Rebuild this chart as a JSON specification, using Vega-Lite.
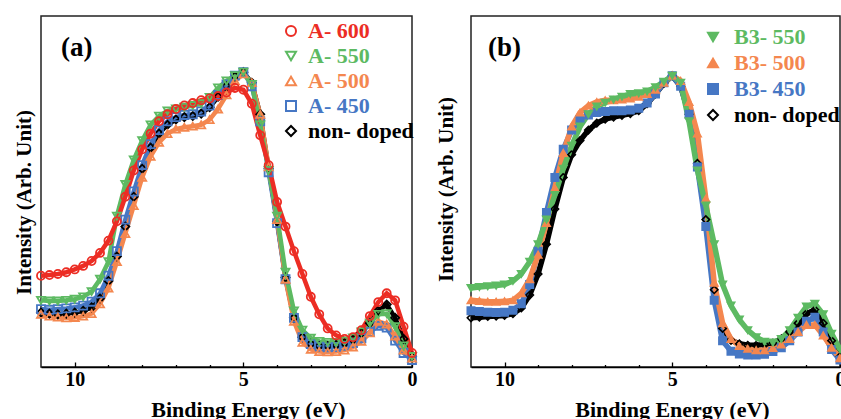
{
"$schema": "https://vega.github.io/schema/vega-lite/v6.json",
"padding": {"left": 12, "top": 15, "right": 2, "bottom": 0},
"bounds": "flush",
"spacing": 59,
"config": {
  "view": {"stroke": "#222222", "strokeWidth": 1.5},
  "font": "Liberation Serif",
  "axis": {"grid": false}
},
"datasets": {
"a": [
{"s":"non- doped","e":11,"i":0.155},{"s":"non- doped","e":10.75,"i":0.152},{"s":"non- doped","e":10.5,"i":0.15},{"s":"non- doped","e":10.25,"i":0.152},{"s":"non- doped","e":10,"i":0.155},{"s":"non- doped","e":9.75,"i":0.16},{"s":"non- doped","e":9.5,"i":0.17},{"s":"non- doped","e":9.25,"i":0.195},{"s":"non- doped","e":9,"i":0.245},{"s":"non- doped","e":8.75,"i":0.315},{"s":"non- doped","e":8.5,"i":0.4},{"s":"non- doped","e":8.25,"i":0.485},{"s":"non- doped","e":8,"i":0.565},{"s":"non- doped","e":7.75,"i":0.625},{"s":"non- doped","e":7.5,"i":0.665},{"s":"non- doped","e":7.25,"i":0.69},{"s":"non- doped","e":7,"i":0.705},{"s":"non- doped","e":6.75,"i":0.712},{"s":"non- doped","e":6.5,"i":0.715},{"s":"non- doped","e":6.25,"i":0.722},{"s":"non- doped","e":6,"i":0.74},{"s":"non- doped","e":5.75,"i":0.77},{"s":"non- doped","e":5.5,"i":0.8},{"s":"non- doped","e":5.25,"i":0.828},{"s":"non- doped","e":5,"i":0.84},{"s":"non- doped","e":4.75,"i":0.81},{"s":"non- doped","e":4.5,"i":0.72},{"s":"non- doped","e":4.25,"i":0.565},{"s":"non- doped","e":4,"i":0.415},{"s":"non- doped","e":3.75,"i":0.255},{"s":"non- doped","e":3.5,"i":0.14},{"s":"non- doped","e":3.25,"i":0.085},{"s":"non- doped","e":3,"i":0.066},{"s":"non- doped","e":2.75,"i":0.06},{"s":"non- doped","e":2.5,"i":0.06},{"s":"non- doped","e":2.25,"i":0.063},{"s":"non- doped","e":2,"i":0.068},{"s":"non- doped","e":1.75,"i":0.078},{"s":"non- doped","e":1.5,"i":0.097},{"s":"non- doped","e":1.25,"i":0.125},{"s":"non- doped","e":1,"i":0.16},{"s":"non- doped","e":0.75,"i":0.178},{"s":"non- doped","e":0.5,"i":0.14},{"s":"non- doped","e":0.25,"i":0.08},{"s":"non- doped","e":0,"i":0.03},
{"s":"A- 450","e":11,"i":0.165},{"s":"A- 450","e":10.75,"i":0.163},{"s":"A- 450","e":10.5,"i":0.165},{"s":"A- 450","e":10.25,"i":0.167},{"s":"A- 450","e":10,"i":0.17},{"s":"A- 450","e":9.75,"i":0.175},{"s":"A- 450","e":9.5,"i":0.186},{"s":"A- 450","e":9.25,"i":0.21},{"s":"A- 450","e":9,"i":0.26},{"s":"A- 450","e":8.75,"i":0.33},{"s":"A- 450","e":8.5,"i":0.42},{"s":"A- 450","e":8.25,"i":0.5},{"s":"A- 450","e":8,"i":0.575},{"s":"A- 450","e":7.75,"i":0.635},{"s":"A- 450","e":7.5,"i":0.675},{"s":"A- 450","e":7.25,"i":0.7},{"s":"A- 450","e":7,"i":0.712},{"s":"A- 450","e":6.75,"i":0.718},{"s":"A- 450","e":6.5,"i":0.72},{"s":"A- 450","e":6.25,"i":0.728},{"s":"A- 450","e":6,"i":0.745},{"s":"A- 450","e":5.75,"i":0.775},{"s":"A- 450","e":5.5,"i":0.805},{"s":"A- 450","e":5.25,"i":0.83},{"s":"A- 450","e":5,"i":0.84},{"s":"A- 450","e":4.75,"i":0.8},{"s":"A- 450","e":4.5,"i":0.7},{"s":"A- 450","e":4.25,"i":0.555},{"s":"A- 450","e":4,"i":0.41},{"s":"A- 450","e":3.75,"i":0.25},{"s":"A- 450","e":3.5,"i":0.14},{"s":"A- 450","e":3.25,"i":0.085},{"s":"A- 450","e":3,"i":0.065},{"s":"A- 450","e":2.75,"i":0.058},{"s":"A- 450","e":2.5,"i":0.056},{"s":"A- 450","e":2.25,"i":0.057},{"s":"A- 450","e":2,"i":0.06},{"s":"A- 450","e":1.75,"i":0.068},{"s":"A- 450","e":1.5,"i":0.082},{"s":"A- 450","e":1.25,"i":0.1},{"s":"A- 450","e":1,"i":0.117},{"s":"A- 450","e":0.75,"i":0.112},{"s":"A- 450","e":0.5,"i":0.075},{"s":"A- 450","e":0.25,"i":0.04},{"s":"A- 450","e":0,"i":0.02},
{"s":"A- 500","e":11,"i":0.15},{"s":"A- 500","e":10.75,"i":0.145},{"s":"A- 500","e":10.5,"i":0.142},{"s":"A- 500","e":10.25,"i":0.14},{"s":"A- 500","e":10,"i":0.141},{"s":"A- 500","e":9.75,"i":0.145},{"s":"A- 500","e":9.5,"i":0.152},{"s":"A- 500","e":9.25,"i":0.18},{"s":"A- 500","e":9,"i":0.225},{"s":"A- 500","e":8.75,"i":0.3},{"s":"A- 500","e":8.5,"i":0.38},{"s":"A- 500","e":8.25,"i":0.46},{"s":"A- 500","e":8,"i":0.54},{"s":"A- 500","e":7.75,"i":0.6},{"s":"A- 500","e":7.5,"i":0.64},{"s":"A- 500","e":7.25,"i":0.665},{"s":"A- 500","e":7,"i":0.678},{"s":"A- 500","e":6.75,"i":0.683},{"s":"A- 500","e":6.5,"i":0.686},{"s":"A- 500","e":6.25,"i":0.69},{"s":"A- 500","e":6,"i":0.705},{"s":"A- 500","e":5.75,"i":0.735},{"s":"A- 500","e":5.5,"i":0.775},{"s":"A- 500","e":5.25,"i":0.815},{"s":"A- 500","e":5,"i":0.835},{"s":"A- 500","e":4.75,"i":0.81},{"s":"A- 500","e":4.5,"i":0.72},{"s":"A- 500","e":4.25,"i":0.57},{"s":"A- 500","e":4,"i":0.42},{"s":"A- 500","e":3.75,"i":0.25},{"s":"A- 500","e":3.5,"i":0.13},{"s":"A- 500","e":3.25,"i":0.07},{"s":"A- 500","e":3,"i":0.05},{"s":"A- 500","e":2.75,"i":0.044},{"s":"A- 500","e":2.5,"i":0.043},{"s":"A- 500","e":2.25,"i":0.044},{"s":"A- 500","e":2,"i":0.048},{"s":"A- 500","e":1.75,"i":0.057},{"s":"A- 500","e":1.5,"i":0.073},{"s":"A- 500","e":1.25,"i":0.097},{"s":"A- 500","e":1,"i":0.13},{"s":"A- 500","e":0.75,"i":0.122},{"s":"A- 500","e":0.5,"i":0.088},{"s":"A- 500","e":0.25,"i":0.048},{"s":"A- 500","e":0,"i":0.025},
{"s":"A- 550","e":11,"i":0.19},{"s":"A- 550","e":10.75,"i":0.188},{"s":"A- 550","e":10.5,"i":0.188},{"s":"A- 550","e":10.25,"i":0.19},{"s":"A- 550","e":10,"i":0.193},{"s":"A- 550","e":9.75,"i":0.2},{"s":"A- 550","e":9.5,"i":0.215},{"s":"A- 550","e":9.25,"i":0.25},{"s":"A- 550","e":9,"i":0.3},{"s":"A- 550","e":8.75,"i":0.43},{"s":"A- 550","e":8.5,"i":0.52},{"s":"A- 550","e":8.25,"i":0.59},{"s":"A- 550","e":8,"i":0.645},{"s":"A- 550","e":7.75,"i":0.69},{"s":"A- 550","e":7.5,"i":0.715},{"s":"A- 550","e":7.25,"i":0.73},{"s":"A- 550","e":7,"i":0.735},{"s":"A- 550","e":6.75,"i":0.74},{"s":"A- 550","e":6.5,"i":0.745},{"s":"A- 550","e":6.25,"i":0.75},{"s":"A- 550","e":6,"i":0.768},{"s":"A- 550","e":5.75,"i":0.795},{"s":"A- 550","e":5.5,"i":0.815},{"s":"A- 550","e":5.25,"i":0.83},{"s":"A- 550","e":5,"i":0.84},{"s":"A- 550","e":4.75,"i":0.805},{"s":"A- 550","e":4.5,"i":0.69},{"s":"A- 550","e":4.25,"i":0.56},{"s":"A- 550","e":4,"i":0.43},{"s":"A- 550","e":3.75,"i":0.27},{"s":"A- 550","e":3.5,"i":0.16},{"s":"A- 550","e":3.25,"i":0.105},{"s":"A- 550","e":3,"i":0.082},{"s":"A- 550","e":2.75,"i":0.073},{"s":"A- 550","e":2.5,"i":0.07},{"s":"A- 550","e":2.25,"i":0.07},{"s":"A- 550","e":2,"i":0.074},{"s":"A- 550","e":1.75,"i":0.083},{"s":"A- 550","e":1.5,"i":0.1},{"s":"A- 550","e":1.25,"i":0.125},{"s":"A- 550","e":1,"i":0.15},{"s":"A- 550","e":0.75,"i":0.152},{"s":"A- 550","e":0.5,"i":0.115},{"s":"A- 550","e":0.25,"i":0.06},{"s":"A- 550","e":0,"i":0.03},
{"s":"A- 600","e":11,"i":0.26},{"s":"A- 600","e":10.75,"i":0.262},{"s":"A- 600","e":10.5,"i":0.265},{"s":"A- 600","e":10.25,"i":0.27},{"s":"A- 600","e":10,"i":0.278},{"s":"A- 600","e":9.75,"i":0.288},{"s":"A- 600","e":9.5,"i":0.302},{"s":"A- 600","e":9.25,"i":0.325},{"s":"A- 600","e":9,"i":0.36},{"s":"A- 600","e":8.75,"i":0.415},{"s":"A- 600","e":8.5,"i":0.485},{"s":"A- 600","e":8.25,"i":0.56},{"s":"A- 600","e":8,"i":0.62},{"s":"A- 600","e":7.75,"i":0.665},{"s":"A- 600","e":7.5,"i":0.7},{"s":"A- 600","e":7.25,"i":0.72},{"s":"A- 600","e":7,"i":0.735},{"s":"A- 600","e":6.75,"i":0.745},{"s":"A- 600","e":6.5,"i":0.752},{"s":"A- 600","e":6.25,"i":0.76},{"s":"A- 600","e":6,"i":0.765},{"s":"A- 600","e":5.75,"i":0.772},{"s":"A- 600","e":5.5,"i":0.782},{"s":"A- 600","e":5.25,"i":0.795},{"s":"A- 600","e":5,"i":0.79},{"s":"A- 600","e":4.75,"i":0.75},{"s":"A- 600","e":4.5,"i":0.66},{"s":"A- 600","e":4.25,"i":0.575},{"s":"A- 600","e":4,"i":0.47},{"s":"A- 600","e":3.75,"i":0.4},{"s":"A- 600","e":3.5,"i":0.33},{"s":"A- 600","e":3.25,"i":0.265},{"s":"A- 600","e":3,"i":0.2},{"s":"A- 600","e":2.75,"i":0.15},{"s":"A- 600","e":2.5,"i":0.11},{"s":"A- 600","e":2.25,"i":0.09},{"s":"A- 600","e":2,"i":0.08},{"s":"A- 600","e":1.75,"i":0.085},{"s":"A- 600","e":1.5,"i":0.105},{"s":"A- 600","e":1.25,"i":0.145},{"s":"A- 600","e":1,"i":0.185},{"s":"A- 600","e":0.75,"i":0.21},{"s":"A- 600","e":0.5,"i":0.19},{"s":"A- 600","e":0.25,"i":0.115},{"s":"A- 600","e":0,"i":0.04}
],
"b": [
{"s":"non- doped","e":11,"i":0.14},{"s":"non- doped","e":10.75,"i":0.142},{"s":"non- doped","e":10.5,"i":0.144},{"s":"non- doped","e":10.25,"i":0.145},{"s":"non- doped","e":10,"i":0.147},{"s":"non- doped","e":9.75,"i":0.152},{"s":"non- doped","e":9.5,"i":0.168},{"s":"non- doped","e":9.25,"i":0.205},{"s":"non- doped","e":9,"i":0.265},{"s":"non- doped","e":8.75,"i":0.35},{"s":"non- doped","e":8.5,"i":0.45},{"s":"non- doped","e":8.25,"i":0.54},{"s":"non- doped","e":8,"i":0.605},{"s":"non- doped","e":7.75,"i":0.645},{"s":"non- doped","e":7.5,"i":0.675},{"s":"non- doped","e":7.25,"i":0.695},{"s":"non- doped","e":7,"i":0.706},{"s":"non- doped","e":6.75,"i":0.712},{"s":"non- doped","e":6.5,"i":0.717},{"s":"non- doped","e":6.25,"i":0.722},{"s":"non- doped","e":6,"i":0.73},{"s":"non- doped","e":5.75,"i":0.75},{"s":"non- doped","e":5.5,"i":0.778},{"s":"non- doped","e":5.25,"i":0.808},{"s":"non- doped","e":5,"i":0.83},{"s":"non- doped","e":4.75,"i":0.8},{"s":"non- doped","e":4.5,"i":0.72},{"s":"non- doped","e":4.25,"i":0.58},{"s":"non- doped","e":4,"i":0.42},{"s":"non- doped","e":3.75,"i":0.22},{"s":"non- doped","e":3.5,"i":0.11},{"s":"non- doped","e":3.25,"i":0.076},{"s":"non- doped","e":3,"i":0.066},{"s":"non- doped","e":2.75,"i":0.062},{"s":"non- doped","e":2.5,"i":0.062},{"s":"non- doped","e":2.25,"i":0.064},{"s":"non- doped","e":2,"i":0.068},{"s":"non- doped","e":1.75,"i":0.08},{"s":"non- doped","e":1.5,"i":0.1},{"s":"non- doped","e":1.25,"i":0.125},{"s":"non- doped","e":1,"i":0.152},{"s":"non- doped","e":0.75,"i":0.163},{"s":"non- doped","e":0.5,"i":0.125},{"s":"non- doped","e":0.25,"i":0.075},{"s":"non- doped","e":0,"i":0.03},
{"s":"B3- 450","e":11,"i":0.16},{"s":"B3- 450","e":10.75,"i":0.158},{"s":"B3- 450","e":10.5,"i":0.156},{"s":"B3- 450","e":10.25,"i":0.155},{"s":"B3- 450","e":10,"i":0.156},{"s":"B3- 450","e":9.75,"i":0.162},{"s":"B3- 450","e":9.5,"i":0.18},{"s":"B3- 450","e":9.25,"i":0.235},{"s":"B3- 450","e":9,"i":0.33},{"s":"B3- 450","e":8.75,"i":0.44},{"s":"B3- 450","e":8.5,"i":0.54},{"s":"B3- 450","e":8.25,"i":0.62},{"s":"B3- 450","e":8,"i":0.675},{"s":"B3- 450","e":7.75,"i":0.705},{"s":"B3- 450","e":7.5,"i":0.718},{"s":"B3- 450","e":7.25,"i":0.725},{"s":"B3- 450","e":7,"i":0.728},{"s":"B3- 450","e":6.75,"i":0.73},{"s":"B3- 450","e":6.5,"i":0.73},{"s":"B3- 450","e":6.25,"i":0.732},{"s":"B3- 450","e":6,"i":0.737},{"s":"B3- 450","e":5.75,"i":0.752},{"s":"B3- 450","e":5.5,"i":0.778},{"s":"B3- 450","e":5.25,"i":0.81},{"s":"B3- 450","e":5,"i":0.83},{"s":"B3- 450","e":4.75,"i":0.8},{"s":"B3- 450","e":4.5,"i":0.72},{"s":"B3- 450","e":4.25,"i":0.57},{"s":"B3- 450","e":4,"i":0.4},{"s":"B3- 450","e":3.75,"i":0.19},{"s":"B3- 450","e":3.5,"i":0.075},{"s":"B3- 450","e":3.25,"i":0.045},{"s":"B3- 450","e":3,"i":0.037},{"s":"B3- 450","e":2.75,"i":0.034},{"s":"B3- 450","e":2.5,"i":0.034},{"s":"B3- 450","e":2.25,"i":0.036},{"s":"B3- 450","e":2,"i":0.044},{"s":"B3- 450","e":1.75,"i":0.055},{"s":"B3- 450","e":1.5,"i":0.075},{"s":"B3- 450","e":1.25,"i":0.1},{"s":"B3- 450","e":1,"i":0.13},{"s":"B3- 450","e":0.75,"i":0.142},{"s":"B3- 450","e":0.5,"i":0.1},{"s":"B3- 450","e":0.25,"i":0.05},{"s":"B3- 450","e":0,"i":0.02},
{"s":"B3- 500","e":11,"i":0.19},{"s":"B3- 500","e":10.75,"i":0.188},{"s":"B3- 500","e":10.5,"i":0.186},{"s":"B3- 500","e":10.25,"i":0.186},{"s":"B3- 500","e":10,"i":0.187},{"s":"B3- 500","e":9.75,"i":0.19},{"s":"B3- 500","e":9.5,"i":0.21},{"s":"B3- 500","e":9.25,"i":0.25},{"s":"B3- 500","e":9,"i":0.32},{"s":"B3- 500","e":8.75,"i":0.41},{"s":"B3- 500","e":8.5,"i":0.51},{"s":"B3- 500","e":8.25,"i":0.61},{"s":"B3- 500","e":8,"i":0.685},{"s":"B3- 500","e":7.75,"i":0.725},{"s":"B3- 500","e":7.5,"i":0.745},{"s":"B3- 500","e":7.25,"i":0.755},{"s":"B3- 500","e":7,"i":0.76},{"s":"B3- 500","e":6.75,"i":0.76},{"s":"B3- 500","e":6.5,"i":0.762},{"s":"B3- 500","e":6.25,"i":0.765},{"s":"B3- 500","e":6,"i":0.77},{"s":"B3- 500","e":5.75,"i":0.778},{"s":"B3- 500","e":5.5,"i":0.79},{"s":"B3- 500","e":5.25,"i":0.81},{"s":"B3- 500","e":5,"i":0.83},{"s":"B3- 500","e":4.75,"i":0.815},{"s":"B3- 500","e":4.5,"i":0.755},{"s":"B3- 500","e":4.25,"i":0.665},{"s":"B3- 500","e":4,"i":0.48},{"s":"B3- 500","e":3.75,"i":0.24},{"s":"B3- 500","e":3.5,"i":0.125},{"s":"B3- 500","e":3.25,"i":0.08},{"s":"B3- 500","e":3,"i":0.06},{"s":"B3- 500","e":2.75,"i":0.052},{"s":"B3- 500","e":2.5,"i":0.048},{"s":"B3- 500","e":2.25,"i":0.048},{"s":"B3- 500","e":2,"i":0.054},{"s":"B3- 500","e":1.75,"i":0.064},{"s":"B3- 500","e":1.5,"i":0.08},{"s":"B3- 500","e":1.25,"i":0.1},{"s":"B3- 500","e":1,"i":0.12},{"s":"B3- 500","e":0.75,"i":0.12},{"s":"B3- 500","e":0.5,"i":0.09},{"s":"B3- 500","e":0.25,"i":0.055},{"s":"B3- 500","e":0,"i":0.025},
{"s":"B3- 550","e":11,"i":0.225},{"s":"B3- 550","e":10.75,"i":0.228},{"s":"B3- 550","e":10.5,"i":0.23},{"s":"B3- 550","e":10.25,"i":0.232},{"s":"B3- 550","e":10,"i":0.235},{"s":"B3- 550","e":9.75,"i":0.245},{"s":"B3- 550","e":9.5,"i":0.265},{"s":"B3- 550","e":9.25,"i":0.3},{"s":"B3- 550","e":9,"i":0.35},{"s":"B3- 550","e":8.75,"i":0.42},{"s":"B3- 550","e":8.5,"i":0.49},{"s":"B3- 550","e":8.25,"i":0.565},{"s":"B3- 550","e":8,"i":0.63},{"s":"B3- 550","e":7.75,"i":0.685},{"s":"B3- 550","e":7.5,"i":0.72},{"s":"B3- 550","e":7.25,"i":0.742},{"s":"B3- 550","e":7,"i":0.753},{"s":"B3- 550","e":6.75,"i":0.762},{"s":"B3- 550","e":6.5,"i":0.77},{"s":"B3- 550","e":6.25,"i":0.778},{"s":"B3- 550","e":6,"i":0.78},{"s":"B3- 550","e":5.75,"i":0.785},{"s":"B3- 550","e":5.5,"i":0.797},{"s":"B3- 550","e":5.25,"i":0.813},{"s":"B3- 550","e":5,"i":0.83},{"s":"B3- 550","e":4.75,"i":0.81},{"s":"B3- 550","e":4.5,"i":0.7},{"s":"B3- 550","e":4.25,"i":0.56},{"s":"B3- 550","e":4,"i":0.46},{"s":"B3- 550","e":3.75,"i":0.35},{"s":"B3- 550","e":3.5,"i":0.235},{"s":"B3- 550","e":3.25,"i":0.175},{"s":"B3- 550","e":3,"i":0.135},{"s":"B3- 550","e":2.75,"i":0.105},{"s":"B3- 550","e":2.5,"i":0.085},{"s":"B3- 550","e":2.25,"i":0.072},{"s":"B3- 550","e":2,"i":0.07},{"s":"B3- 550","e":1.75,"i":0.08},{"s":"B3- 550","e":1.5,"i":0.105},{"s":"B3- 550","e":1.25,"i":0.14},{"s":"B3- 550","e":1,"i":0.172},{"s":"B3- 550","e":0.75,"i":0.18},{"s":"B3- 550","e":0.5,"i":0.15},{"s":"B3- 550","e":0.25,"i":0.095},{"s":"B3- 550","e":0,"i":0.05}
]
},
"hconcat": [
{
  "width": 371, "height": 351,
  "title": {"text": "(a)", "anchor": "start", "frame": "group", "orient": "top", "offset": 0, "dx": 20, "dy": 67, "baseline": "alphabetic", "font": "Liberation Serif", "fontWeight": "bold", "fontSize": 27, "color": "#000000"},
  "data": {"name": "a"},
  "encoding": {
    "x": {"field": "e", "type": "quantitative", "scale": {"domain": [0, 11], "reverse": true, "nice": false, "zero": false},
      "axis": {"values": [0,1,2,3,4,5,6,7,8,9,10], "labelExpr": "datum.value % 5 === 0 ? datum.label : ''",
        "tickSize": {"condition": {"test": "datum.value % 5 === 0", "value": -5}, "value": -2.5},
        "tickColor": "#000000", "tickWidth": 1.3, "domainColor": "#000000", "domainWidth": 1.5,
        "labelFont": "Liberation Serif", "labelFontSize": 20, "labelFontWeight": "bold", "labelColor": "#000000", "labelPadding": 7, "labelFlush": false, "labelOverlap": false,
        "title": "Binding Energy (eV)", "titleFont": "Liberation Serif", "titleFontSize": 22, "titleFontWeight": "bold", "titleColor": "#000000", "titleX": 207, "titleY": 49, "titleBaseline": "alphabetic"}},
    "y": {"field": "i", "type": "quantitative", "scale": {"domain": [0, 1], "nice": false},
      "axis": {"title": "Intensity (Arb. Unit)", "labels": false, "ticks": false, "domain": false, "titleFont": "Liberation Serif", "titleFontSize": 21, "titleFontWeight": "bold", "titleColor": "#000000", "titlePadding": 7, "titleY": 186}}
  },
  "layer": [
    {"mark": {"type": "line", "strokeWidth": 4.5},
     "encoding": {"color": {"field": "s", "type": "nominal",
        "scale": {"domain": ["A- 600", "A- 550", "A- 500", "A- 450", "non- doped"], "range": ["#ec2d24", "#5dba62", "#f4874f", "#4677c4", "#000000"]}}}},
    {"mark": {"type": "point", "filled": false, "strokeWidth": 1.8, "size": 65, "opacity": 1},
     "encoding": {
       "color": {"field": "s", "type": "nominal",
         "scale": {"domain": ["A- 600", "A- 550", "A- 500", "A- 450", "non- doped"], "range": ["#ec2d24", "#5dba62", "#f4874f", "#4677c4", "#000000"]},
         "legend": {"title": null, "orient": "none", "legendX": 239, "legendY": 4, "padding": 0, "symbolSize": 100, "symbolStrokeWidth": 2, "labelFont": "Liberation Serif", "labelFontWeight": "bold", "labelFontSize": 22, "labelOffset": 6, "rowPadding": 3, "labelLimit": 300,
           "labelColor": {"expr": "datum.value === 'A- 600' ? '#ec2d24' : datum.value === 'A- 550' ? '#5dba62' : datum.value === 'A- 500' ? '#f4874f' : datum.value === 'A- 450' ? '#4677c4' : '#000000'"},
           "encode": {"symbols": {"strokeWidth": {"value": 2}}}}},
       "shape": {"field": "s", "type": "nominal",
         "scale": {"domain": ["A- 600", "A- 550", "A- 500", "A- 450", "non- doped"], "range": ["circle", "triangle-down", "triangle-up", "square", "diamond"]},
         "legend": {"title": null, "orient": "none", "legendX": 239, "legendY": 4, "padding": 0, "symbolSize": 100, "symbolStrokeWidth": 2, "labelFont": "Liberation Serif", "labelFontWeight": "bold", "labelFontSize": 22, "labelOffset": 6, "rowPadding": 3, "labelLimit": 300,
           "labelColor": {"expr": "datum.value === 'A- 600' ? '#ec2d24' : datum.value === 'A- 550' ? '#5dba62' : datum.value === 'A- 500' ? '#f4874f' : datum.value === 'A- 450' ? '#4677c4' : '#000000'"},
           "encode": {"symbols": {"strokeWidth": {"value": 2}}}}}
     }}
  ]
},
{
  "width": 369, "height": 351,
  "title": {"text": "(b)", "anchor": "start", "frame": "group", "orient": "top", "offset": 0, "dx": 17, "dy": 67, "baseline": "alphabetic", "font": "Liberation Serif", "fontWeight": "bold", "fontSize": 27, "color": "#000000"},
  "data": {"name": "b"},
  "encoding": {
    "x": {"field": "e", "type": "quantitative", "scale": {"domain": [0, 11], "reverse": true, "nice": false, "zero": false},
      "axis": {"values": [0,1,2,3,4,5,6,7,8,9,10], "labelExpr": "datum.value % 5 === 0 ? datum.label : ''",
        "tickSize": {"condition": {"test": "datum.value % 5 === 0", "value": -5}, "value": -2.5},
        "tickColor": "#000000", "tickWidth": 1.3, "domainColor": "#000000", "domainWidth": 1.5,
        "labelFont": "Liberation Serif", "labelFontSize": 20, "labelFontWeight": "bold", "labelColor": "#000000", "labelPadding": 7, "labelFlush": false, "labelOverlap": false,
        "title": "Binding Energy (eV)", "titleFont": "Liberation Serif", "titleFontSize": 22, "titleFontWeight": "bold", "titleColor": "#000000", "titleX": 201, "titleY": 49, "titleBaseline": "alphabetic"}},
    "y": {"field": "i", "type": "quantitative", "scale": {"domain": [0, 1], "nice": false},
      "axis": {"title": "Intensity (Arb. Unit)", "labels": false, "ticks": false, "domain": false, "titleFont": "Liberation Serif", "titleFontSize": 21, "titleFontWeight": "bold", "titleColor": "#000000", "titlePadding": 15, "titleY": 173}}
  },
  "layer": [
    {"mark": {"type": "line", "strokeWidth": 5.5},
     "encoding": {"stroke": {"field": "s", "type": "nominal",
        "scale": {"domain": ["B3- 550", "B3- 500", "B3- 450", "non- doped"], "range": ["#5dba62", "#f4874f", "#4677c4", "#000000"]}}}},
    {"mark": {"type": "point", "strokeWidth": 1.6, "size": 55, "opacity": 1},
     "encoding": {
       "fill": {"field": "s", "type": "nominal",
         "scale": {"domain": ["B3- 550", "B3- 500", "B3- 450", "non- doped"], "range": ["#5dba62", "#f4874f", "#4677c4", "transparent"]},
         "legend": {"title": null, "orient": "none", "legendX": 231, "legendY": 10, "padding": 0, "symbolSize": 100, "symbolStrokeWidth": 2, "labelFont": "Liberation Serif", "labelFontWeight": "bold", "labelFontSize": 22, "labelOffset": 10, "rowPadding": 4, "labelLimit": 300,
           "labelColor": {"expr": "datum.value === 'B3- 550' ? '#5dba62' : datum.value === 'B3- 500' ? '#f4874f' : datum.value === 'B3- 450' ? '#4677c4' : '#000000'"},
           "encode": {"symbols": {"strokeWidth": {"value": 2}}}}},
       "stroke": {"field": "s", "type": "nominal",
         "scale": {"domain": ["B3- 550", "B3- 500", "B3- 450", "non- doped"], "range": ["#5dba62", "#f4874f", "#4677c4", "#000000"]},
         "legend": {"title": null, "orient": "none", "legendX": 231, "legendY": 10, "padding": 0, "symbolSize": 100, "symbolStrokeWidth": 2, "labelFont": "Liberation Serif", "labelFontWeight": "bold", "labelFontSize": 22, "labelOffset": 10, "rowPadding": 4, "labelLimit": 300,
           "labelColor": {"expr": "datum.value === 'B3- 550' ? '#5dba62' : datum.value === 'B3- 500' ? '#f4874f' : datum.value === 'B3- 450' ? '#4677c4' : '#000000'"},
           "encode": {"symbols": {"strokeWidth": {"value": 2}}}}},
       "shape": {"field": "s", "type": "nominal",
         "scale": {"domain": ["B3- 550", "B3- 500", "B3- 450", "non- doped"], "range": ["triangle-down", "triangle-up", "square", "diamond"]},
         "legend": {"title": null, "orient": "none", "legendX": 231, "legendY": 10, "padding": 0, "symbolSize": 100, "symbolStrokeWidth": 2, "labelFont": "Liberation Serif", "labelFontWeight": "bold", "labelFontSize": 22, "labelOffset": 10, "rowPadding": 4, "labelLimit": 300,
           "labelColor": {"expr": "datum.value === 'B3- 550' ? '#5dba62' : datum.value === 'B3- 500' ? '#f4874f' : datum.value === 'B3- 450' ? '#4677c4' : '#000000'"},
           "encode": {"symbols": {"strokeWidth": {"value": 2}}}}}
     }}
  ]
}
],
"resolve": {"scale": {"color": "independent", "shape": "independent", "fill": "independent", "stroke": "independent"}, "legend": {"color": "independent", "shape": "independent", "fill": "independent", "stroke": "independent"}}
}
